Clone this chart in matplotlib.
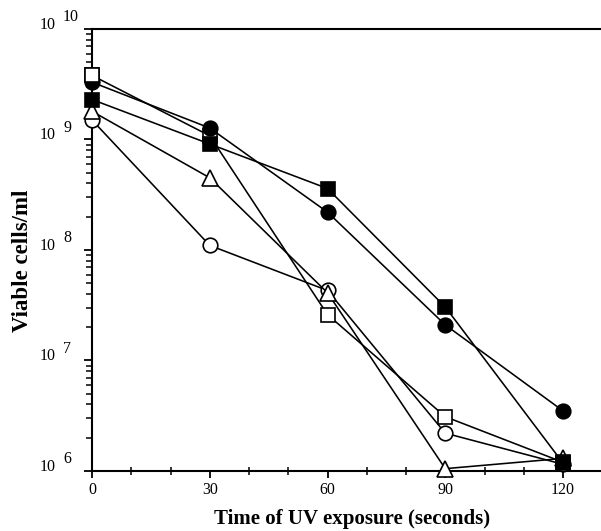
import numpy as np
import matplotlib
matplotlib.use("Agg")
import matplotlib.pyplot as plt
import matplotlib.transforms as mtransforms
from matplotlib.ticker import LogLocator, FuncFormatter, MultipleLocator, NullFormatter

plt.rcParams['font.family'] = ['Liberation Serif', 'DejaVu Serif']

times = [0, 30, 60, 90, 120]
filled_circle = [3.3e9, 1.27e9, 2.2e8, 2.1e7, 3.5e6]
filled_square = [2.3e9, 9.1e8, 3.6e8, 3.05e7, 1.18e6]
open_square = [3.8e9, 1.08e9, 2.6e7, 3.1e6, 1.2e6]
open_circle = [1.5e9, 1.1e8, 4.3e7, 2.2e6, 1.15e6]
open_triangle = [1.8e9, 4.5e8, 4.1e7, 1.05e6, 1.3e6]

xticks = [0, 30, 60, 90, 120]
decades = [6, 7, 8, 9, 10]
xlabel = "Time of UV exposure (seconds)"
ylabel = "Viable cells/ml"

fig = plt.figure(figsize=(6.01, 5.31), dpi=100)
ax = fig.add_axes([0.1531, 0.1130, 0.849, 0.8324])

common = dict(color='black', linewidth=1.15, markeredgewidth=1.2,
              markeredgecolor='black', clip_on=False)
ax.plot(times, open_circle, marker='o', markersize=10.5, markerfacecolor='white', zorder=3, **common)
ax.plot(times, open_triangle, marker='^', markersize=11, markerfacecolor='white', zorder=4, **common)
ax.plot(times, open_square, marker='s', markersize=10.5, markerfacecolor='white', zorder=5, **common)
ax.plot(times, filled_circle, marker='o', markersize=10.5, markerfacecolor='black', zorder=6, **common)
ax.plot(times, filled_square, marker='s', markersize=10.5, markerfacecolor='black', zorder=7, **common)
# first open-square point lies on top of the hidden filled circle at t=0
ax.plot(times[:1], open_square[:1], marker='s', markersize=10.5, linestyle='none',
        markerfacecolor='white', markeredgecolor='black', markeredgewidth=1.2,
        clip_on=False, zorder=8)

ax.set_yscale('log')
ax.set_ylim(1e6, 1e10)
ax.set_xlim(0, 130)

ax.set_xticks(xticks)
ax.set_xticklabels([str(t) for t in xticks])
ax.xaxis.set_minor_locator(MultipleLocator(10))

ax.yaxis.set_major_locator(LogLocator(base=10, numticks=10))
ax.yaxis.set_minor_locator(LogLocator(base=10, subs=np.arange(2, 10), numticks=20))
ax.yaxis.set_minor_formatter(NullFormatter())
ax.yaxis.set_major_formatter(FuncFormatter(lambda v, pos: "10"))

for s in ['left', 'bottom', 'top']:
    ax.spines[s].set_linewidth(1.5)
ax.spines['right'].set_visible(False)

ax.tick_params(axis='x', which='major', direction='out', length=5, width=1.3,
               labelsize=11.5, pad=3, top=False)
ax.tick_params(axis='x', which='minor', direction='inout', length=6, width=1.1, top=False)
ax.tick_params(axis='y', which='major', direction='out', length=5.5, width=1.3,
               labelsize=11.5, pad=21, right=False)
ax.tick_params(axis='y', which='minor', direction='out', length=4, width=1.1, right=False)
for lab in ax.get_yticklabels():
    lab.set_verticalalignment('baseline')

# exponents of the y tick labels
ax_w_px = 0.849 * 601
trans = mtransforms.blended_transform_factory(ax.transAxes, ax.transData)
trans = trans + mtransforms.ScaledTranslation(0, 5.5 / 72, fig.dpi_scale_trans)
for k in decades:
    ax.text((63 - 92) / ax_w_px, 10.0 ** k, str(k), transform=trans,
            fontsize=11.5, ha='left', va='baseline', clip_on=False)

ax.set_xlabel(xlabel, fontsize=15, fontweight='bold')
ax.xaxis.label.set_va('top')
ax.xaxis.set_label_coords(0.51, -0.086)
ax.set_ylabel(ylabel, fontsize=16.5, fontweight='bold')
ax.yaxis.label.set_va('center')
ax.yaxis.set_label_coords(-0.137, 0.475)

fig.savefig('out.png', dpi=100)
